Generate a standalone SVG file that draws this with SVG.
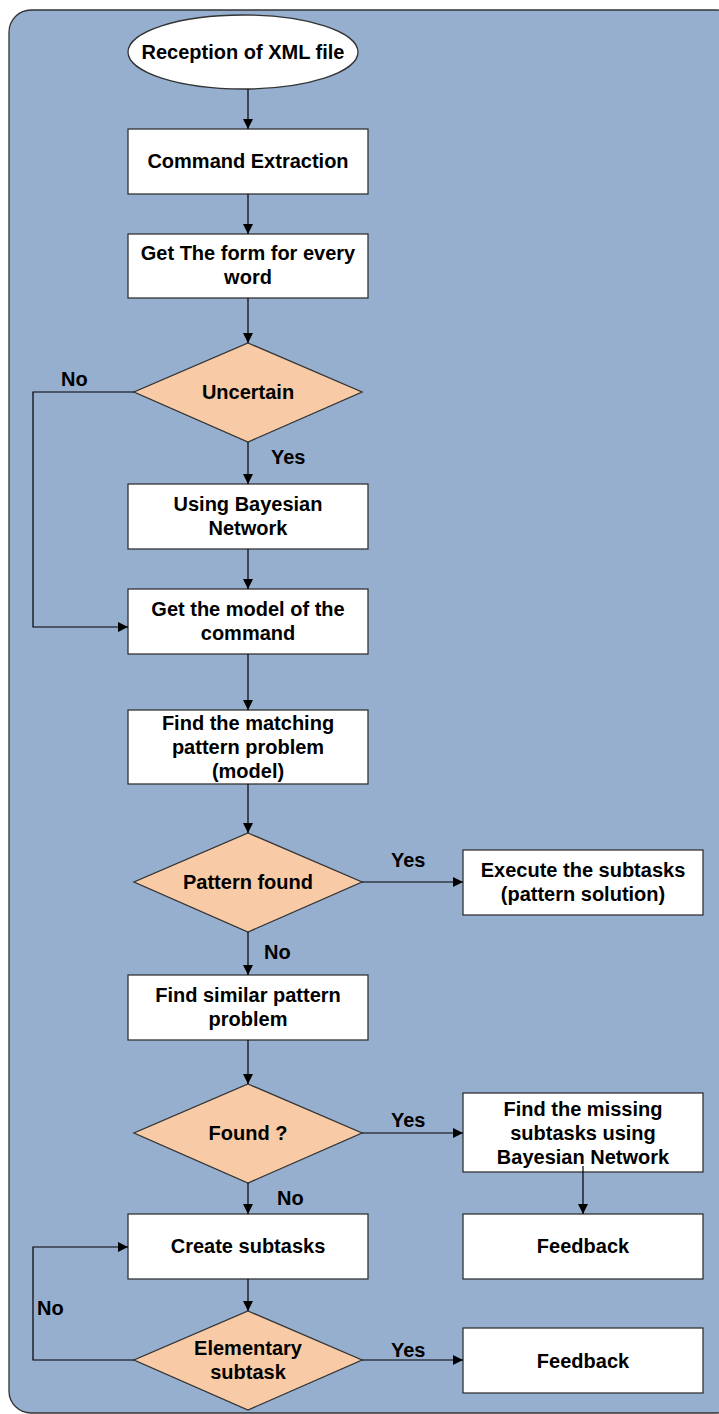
<svg xmlns="http://www.w3.org/2000/svg" width="719" height="1414" viewBox="0 0 719 1414">
  <defs>
    <marker id="arrow" viewBox="0 0 10 10" refX="10" refY="5" markerWidth="10" markerHeight="10" markerUnits="userSpaceOnUse" orient="auto">
      <path d="M0,0 L10,5 L0,10 Z" fill="#000"/>
    </marker>
    <style>
      .box { fill: #ffffff; stroke: #333333; stroke-width: 1.3; }
      .dec { fill: #F8CBA6; stroke: #333333; stroke-width: 1.3; }
      .t { font-family: "Liberation Sans", Arial, sans-serif; font-weight: bold; font-size: 20px; fill: #000; text-anchor: middle; }
      .lbl { font-family: "Liberation Sans", Arial, sans-serif; font-weight: bold; font-size: 20px; fill: #000; }
      .edge { fill: none; stroke: #000; stroke-width: 1.2; marker-end: url(#arrow); }
    </style>
  </defs>

  <!-- container panel -->
  <rect x="9" y="10" width="730" height="1403" rx="22" ry="22" fill="#96AFCF" stroke="#333333" stroke-width="1.3"/>

  <g id="start">
    <ellipse cx="243" cy="52" rx="115" ry="37" class="box"/>
    <text x="243" y="59" class="t">Reception of XML file</text>
  </g>
  <g id="command-extraction">
    <rect x="128" y="129" width="240" height="65" class="box"/>
    <text x="248" y="168" class="t">Command Extraction</text>
  </g>
  <g id="get-form">
    <rect x="128" y="234" width="240" height="64" class="box"/>
    <text x="248" y="260" class="t">Get The form for every</text>
    <text x="248" y="284" class="t">word</text>
  </g>
  <g id="uncertain">
    <polygon points="248,343 362,392 248,442 134,392" class="dec"/>
    <text x="248" y="399" class="t">Uncertain</text>
  </g>
  <g id="bayesian">
    <rect x="128" y="484" width="240" height="65" class="box"/>
    <text x="248" y="511" class="t">Using Bayesian</text>
    <text x="248" y="535" class="t">Network</text>
  </g>
  <g id="get-model">
    <rect x="128" y="589" width="240" height="65" class="box"/>
    <text x="248" y="616" class="t">Get the model of the</text>
    <text x="248" y="640" class="t">command</text>
  </g>
  <g id="find-matching">
    <rect x="128" y="710" width="240" height="74" class="box"/>
    <text x="248" y="730" class="t">Find the matching</text>
    <text x="248" y="754" class="t">pattern problem</text>
    <text x="248" y="778" class="t">(model)</text>
  </g>
  <g id="pattern-found">
    <polygon points="248,833 362,882 248,932 134,882" class="dec"/>
    <text x="248" y="889" class="t">Pattern found</text>
  </g>
  <g id="execute">
    <rect x="463" y="850" width="240" height="65" class="box"/>
    <text x="583" y="877" class="t">Execute the subtasks</text>
    <text x="583" y="901" class="t">(pattern solution)</text>
  </g>
  <g id="find-similar">
    <rect x="128" y="975" width="240" height="65" class="box"/>
    <text x="248" y="1002" class="t">Find similar pattern</text>
    <text x="248" y="1026" class="t">problem</text>
  </g>
  <g id="found">
    <polygon points="248,1084 362,1133 248,1183 134,1133" class="dec"/>
    <text x="248" y="1140" class="t">Found ?</text>
  </g>
  <g id="find-missing">
    <rect x="463" y="1093" width="240" height="79" class="box"/>
    <text x="583" y="1116" class="t">Find the missing</text>
    <text x="583" y="1140" class="t">subtasks using</text>
    <text x="583" y="1164" class="t">Bayesian Network</text>
  </g>
  <g id="feedback-1">
    <rect x="463" y="1214" width="240" height="65" class="box"/>
    <text x="583" y="1253" class="t">Feedback</text>
  </g>
  <g id="create-subtasks">
    <rect x="128" y="1214" width="240" height="65" class="box"/>
    <text x="248" y="1253" class="t">Create subtasks</text>
  </g>
  <g id="elementary">
    <polygon points="248,1311 362,1360 248,1410 134,1360" class="dec"/>
    <text x="248" y="1355" class="t">Elementary</text>
    <text x="248" y="1379" class="t">subtask</text>
  </g>
  <g id="feedback-2">
    <rect x="463" y="1328" width="240" height="65" class="box"/>
    <text x="583" y="1368" class="t">Feedback</text>
  </g>

  <g id="connectors">
    <path d="M248,89 V129" class="edge"/>
    <path d="M248,194 V234" class="edge"/>
    <path d="M248,298 V343" class="edge"/>
    <path d="M248,442 V484" class="edge"/>
    <path d="M248,549 V589" class="edge"/>
    <path d="M134,392 H33 V627 H128" class="edge"/>
    <path d="M248,654 V710" class="edge"/>
    <path d="M248,784 V833" class="edge"/>
    <path d="M362,882 H463" class="edge"/>
    <path d="M248,932 V975" class="edge"/>
    <path d="M248,1040 V1084" class="edge"/>
    <path d="M362,1133 H463" class="edge"/>
    <path d="M583,1166 V1214" class="edge"/>
    <path d="M248,1183 V1214" class="edge"/>
    <path d="M248,1279 V1311" class="edge"/>
    <path d="M134,1360 H33 V1247 H128" class="edge"/>
    <path d="M362,1360 H463" class="edge"/>

    <text x="61" y="386" class="lbl">No</text>
    <text x="271" y="464" class="lbl">Yes</text>
    <text x="391" y="867" class="lbl">Yes</text>
    <text x="264" y="959" class="lbl">No</text>
    <text x="391" y="1127" class="lbl">Yes</text>
    <text x="277" y="1205" class="lbl">No</text>
    <text x="37" y="1315" class="lbl">No</text>
    <text x="391" y="1357" class="lbl">Yes</text>
  </g>
</svg>
